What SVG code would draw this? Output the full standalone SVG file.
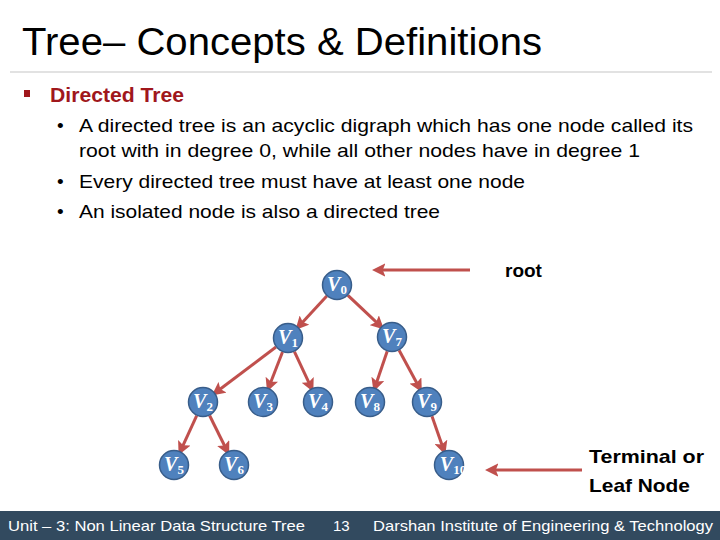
<svg xmlns="http://www.w3.org/2000/svg" width="720" height="540" viewBox="0 0 720 540">
<style>
.title{font-family:"Liberation Sans",Arial,sans-serif;font-size:38px;fill:#000}
.head{font-family:"Liberation Sans",Arial,sans-serif;font-size:20px;font-weight:bold;fill:#a0171c}
.body{font-family:"Liberation Sans",Arial,sans-serif;font-size:19px;fill:#000}
.lbl{font-family:"Liberation Sans",Arial,sans-serif;font-size:19px;font-weight:bold;fill:#000}
.foot{font-family:"Liberation Sans",Arial,sans-serif;font-size:15px;fill:#fff}
.node circle{fill:#4f81bd;stroke:#385d8a;stroke-width:1.5}
.node text{font-family:"Liberation Serif","Times New Roman",serif;font-style:italic;font-weight:bold;font-size:20px;fill:#fff;text-anchor:middle}
.node tspan{font-size:13px;font-style:normal}
.edge{stroke:#c0504d;stroke-width:3;fill:none;marker-end:url(#ah)}
.pointer{stroke:#c0504d;stroke-width:3;fill:none;marker-end:url(#ah)}
</style>
<defs>
<marker id="ah" viewBox="0 0 10 10" refX="7" refY="5" markerWidth="4.5" markerHeight="4.5" orient="auto">
<path d="M0,0 L10,5 L0,10 L2,5 z" fill="#c0504d"/>
</marker>
</defs>
<rect width="720" height="540" fill="#fff"/>
<text class="title" x="22" y="55" textLength="520" lengthAdjust="spacingAndGlyphs">Tree– Concepts &amp; Definitions</text>
<line x1="10" y1="72" x2="712" y2="72" stroke="#d9d9d9" stroke-width="1.5"/>
<rect x="24" y="90" width="6" height="7" fill="#a0171c"/>
<text class="head" x="50" y="102" textLength="134" lengthAdjust="spacingAndGlyphs">Directed Tree</text>
<g class="body">
<text class="body" x="57" y="132">•</text>
<text class="body" x="79" y="132" textLength="614" lengthAdjust="spacingAndGlyphs">A directed tree is an acyclic digraph which has one node called its</text>
<text class="body" x="79" y="157" textLength="561" lengthAdjust="spacingAndGlyphs">root with in degree 0, while all other nodes have in degree 1</text>
<text class="body" x="57" y="188">•</text>
<text class="body" x="79" y="188" textLength="446" lengthAdjust="spacingAndGlyphs">Every directed tree must have at least one node</text>
<text class="body" x="57" y="218">•</text>
<text class="body" x="79" y="218" textLength="361" lengthAdjust="spacingAndGlyphs">An isolated node is also a directed tree</text>
</g>
<g id="connectors">
<line class="edge" x1="326.8" y1="296" x2="298.2" y2="327"/>
<line class="edge" x1="347.9" y1="295.3" x2="381.1" y2="326.7"/>
<line class="edge" x1="276" y1="347" x2="215" y2="393"/>
<line class="edge" x1="282.5" y1="352" x2="268.5" y2="388"/>
<line class="edge" x1="294.4" y1="351.6" x2="311.6" y2="388.4"/>
<line class="edge" x1="387.2" y1="351.2" x2="374.8" y2="387.8"/>
<line class="edge" x1="399.1" y1="350.2" x2="419.9" y2="388.8"/>
<line class="edge" x1="196.7" y1="415.6" x2="180.3" y2="451.4"/>
<line class="edge" x1="209.6" y1="415.5" x2="227.4" y2="451.5"/>
<line class="edge" x1="432" y1="416.2" x2="444" y2="450.8"/>
<line class="pointer" x1="470" y1="270" x2="376" y2="270"/>
<line class="pointer" x1="582" y1="470" x2="489" y2="470"/>
</g>
<g id="v0" class="node"><circle cx="337" cy="285" r="14.5"/><text x="337" y="291">V<tspan dy="3">0</tspan></text></g>
<g id="v1" class="node"><circle cx="288" cy="338" r="14.5"/><text x="288" y="344">V<tspan dy="3">1</tspan></text></g>
<g id="v7" class="node"><circle cx="392" cy="337" r="14.5"/><text x="392" y="343">V<tspan dy="3">7</tspan></text></g>
<g id="v2" class="node"><circle cx="203" cy="402" r="14.5"/><text x="203" y="408">V<tspan dy="3">2</tspan></text></g>
<g id="v3" class="node"><circle cx="263" cy="402" r="14.5"/><text x="263" y="408">V<tspan dy="3">3</tspan></text></g>
<g id="v4" class="node"><circle cx="318" cy="402" r="14.5"/><text x="318" y="408">V<tspan dy="3">4</tspan></text></g>
<g id="v8" class="node"><circle cx="370" cy="402" r="14.5"/><text x="370" y="408">V<tspan dy="3">8</tspan></text></g>
<g id="v9" class="node"><circle cx="427" cy="402" r="14.5"/><text x="427" y="408">V<tspan dy="3">9</tspan></text></g>
<g id="v5" class="node"><circle cx="174" cy="465" r="14.5"/><text x="174" y="471">V<tspan dy="3">5</tspan></text></g>
<g id="v6" class="node"><circle cx="234" cy="465" r="14.5"/><text x="234" y="471">V<tspan dy="3">6</tspan></text></g>
<g id="v10" class="node"><circle cx="449" cy="465" r="14.5"/><text x="453" y="471">V<tspan dy="3">10</tspan></text></g>
<text class="lbl" x="505" y="277">root</text>
<text class="lbl" x="589" y="463" textLength="115" lengthAdjust="spacingAndGlyphs">Terminal or</text>
<text class="lbl" x="589" y="492" textLength="101" lengthAdjust="spacingAndGlyphs">Leaf Node</text>
<rect x="0" y="511" width="720" height="29" fill="#324a5f"/>
<text class="foot" x="8" y="531" textLength="297" lengthAdjust="spacingAndGlyphs">Unit – 3: Non Linear Data Structure  Tree</text>
<text class="foot" x="333" y="531">13</text>
<text class="foot" x="373" y="531" textLength="340" lengthAdjust="spacingAndGlyphs">Darshan Institute of Engineering &amp; Technology</text>
</svg>
